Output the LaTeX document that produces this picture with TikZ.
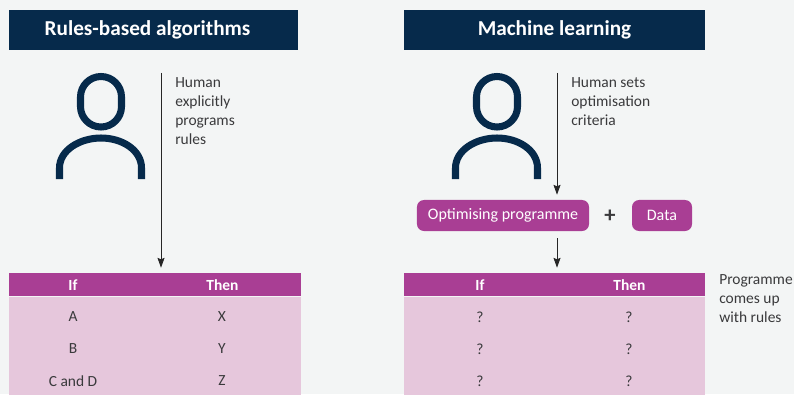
\documentclass[tikz,border=0pt]{standalone}
\usepackage{fontspec}
\setmainfont{Carlito}
\usetikzlibrary{arrows.meta,positioning,calc}
\definecolor{navy}{HTML}{062A4B}
\definecolor{plum}{HTML}{A93E94}
\definecolor{pinklight}{HTML}{E6C7DC}
\definecolor{paper}{HTML}{F3F5F5}
\definecolor{ink}{HTML}{3A3A3C}
\begin{document}
\begin{tikzpicture}[x=.025cm,y=-.025cm,>={Stealth[length=7pt,width=5pt,inset=1pt]},
        title/.style = {fill=navy,text=white,inner sep=0pt,minimum height=1cm,font=\fontsize{15.1}{18}\selectfont\bfseries},
        note/.style = {anchor=north west,align=left,inner sep=0pt,text=ink,font=\fontsize{11}{13.5}\selectfont},
        ifhead/.style = {fill=plum,inner sep=0pt,minimum height=.575cm},
        ifbody/.style = {fill=pinklight,inner sep=0pt,minimum height=2.5cm},
        headtext/.style = {text=white,font=\fontsize{11}{13}\selectfont\bfseries},
        celltext/.style = {text=ink,font=\fontsize{11}{13}\selectfont},
        pill/.style = {fill=plum,text=white,rounded corners=5pt,inner sep=0pt,minimum height=.775cm,font=\fontsize{11.4}{14}\selectfont},
        person/.style = {draw=navy,line width=5pt},
        flow/.style = {->,draw=black!85,line width=.7pt,shorten >=5*.711pt}
        ]

        %Background
        \fill[paper] (0,0) rectangle (794,394);
        \useasboundingbox (0,0) rectangle (794,394);

        %Rules-based algorithms
        \node[title,minimum width=7.225cm] (lefttitle) at (153.5,30) {\hspace*{-8.5pt}Rules-based algorithms};
        \node[ifhead,minimum width=7.3cm] (lefthead) at (155,284.5) {};
        \node[ifbody,minimum width=7.3cm,below=0pt of lefthead] (leftbody) {};
        \node[note] (leftnote) at (175,77) {Human\\explicitly\\programs\\rules};
        \node[headtext] (leftif) at (73,285.5) {If};
        \node[headtext] (leftthen) at (222.5,285.5) {Then};
        \node[celltext] (lefta) at (73,317) {A};
        \node[celltext] (leftx) at (222,317) {X};
        \node[celltext] (leftb) at (73,349) {B};
        \node[celltext] (lefty) at (222,349) {Y};
        \node[celltext] (leftc) at (73,381) {C and D};
        \node[celltext] (leftz) at (222,381) {Z};
        \coordinate (leftstart) at (161,73);
        \draw[flow] (leftstart) -- (leftstart |- lefthead.north);

        %Machine learning
        \node[title,minimum width=7.525cm] (righttitle) at (554.5,30) {Machine learning};
        \node[ifhead,minimum width=7.525cm] (righthead) at (554.5,284.5) {};
        \node[ifbody,minimum width=7.525cm,below=0pt of righthead] (rightbody) {};
        \node[note] (rightnote) at (571,77) {Human sets\\optimisation\\criteria};
        \node[pill,minimum width=4.3cm] (optim) at (503,215.5) {Optimising programme};
        \node[pill,minimum width=1.5cm] (data) at (662,215.5) {Data};
        \node[text=ink,font=\fontsize{16}{18}\selectfont\bfseries] (plus) at (610,216) {+};
        \node[headtext] (rightif) at (480,285.5) {If};
        \node[headtext] (rightthen) at (629.5,285.5) {Then};
        \foreach \y/\n in {317/a,349/b,381/c}{
            \node[celltext] (rightif\n) at (480,\y) {?};
            \node[celltext] (rightthen\n) at (629,\y) {?};
        }
        \node[note] (rulesnote) at (719,274) {Programme\\comes up\\with rules};
        \coordinate (rightstart) at (557,73);
        \coordinate (optimout) at (557,238);
        \draw[flow] (rightstart) -- (rightstart |- optim.north);
        \draw[flow] (optimout) -- (optimout |- righthead.north);

        %Person icons
        \foreach \s in {0,396}{
            \begin{scope}[xshift=\s*.025cm]
                \draw[person,rounded corners=20.5*.711pt] (80.5,76.5) rectangle (121.5,127);
                \draw[person] (59.5,179) -- (59.5,168) .. controls (59.5,150) and (80,138) .. (101,138)
                    .. controls (122,138) and (141.5,150) .. (141.5,168) -- (141.5,179);
            \end{scope}
        }

    \end{tikzpicture}
\end{document}
